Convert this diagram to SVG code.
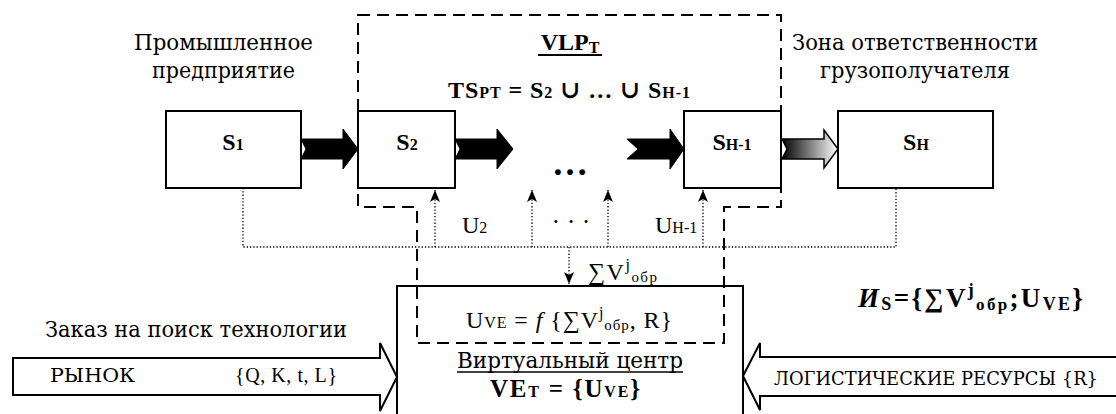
<svg xmlns="http://www.w3.org/2000/svg" width="1116" height="414" viewBox="0 0 1116 414">
<style>
text{font-family:"Liberation Serif","DejaVu Serif","Noto Serif","Tinos","FreeSerif","Times New Roman",serif;fill:#000}
.r{font-size:24px}
.b{font-size:24px;font-weight:bold}
.cy{font-family:"DejaVu Serif","Noto Serif","FreeSerif","PT Serif","Liberation Serif",serif;font-size:22px}
.cs{font-family:"DejaVu Serif","Noto Serif","FreeSerif","PT Serif","Liberation Serif",serif;font-size:19px}
.sub{font-size:16px}
.box{fill:#fff;stroke:#000;stroke-width:2}
.dash{fill:none;stroke:#000;stroke-width:2;stroke-dasharray:12 7}
.dot{fill:none;stroke:#000;stroke-width:1.3;stroke-dasharray:1.3 2}
.blk{fill:#000;stroke:#000;stroke-width:1}
.hollow{fill:#fff;stroke:#000;stroke-width:2}
</style>
<defs>
<linearGradient id="g" x1="0" y1="0" x2="1" y2="0">
<stop offset="0" stop-color="#000"/>
<stop offset="1" stop-color="#fff"/>
</linearGradient>
<marker id="ah" markerUnits="userSpaceOnUse" markerWidth="14" markerHeight="10" refX="12" refY="5" orient="auto">
<path d="M0,0 L12,5 L0,10 L3,5 Z" fill="#000"/>
</marker>
</defs>

<g id="vlp-region">
<path class="dash" d="M358,15 H781 V207 H724 V343 H417 V207 H358 Z"/>
</g>

<g id="ve">
<rect x="397" y="286" width="346" height="140" fill="none" stroke="#000" stroke-width="2"/>
<text class="r" x="466" y="328" textLength="206">U<tspan class="sub">VE</tspan> = <tspan font-style="italic">f</tspan> {∑V<tspan class="sub" dy="-10">j</tspan><tspan class="sub" dy="12" style="font-size:15px">обр</tspan><tspan dy="-2">, R}</tspan></text>
<text class="cy" x="457" y="368" textLength="226" lengthAdjust="spacingAndGlyphs">Виртуальный центр</text>
<line x1="457" y1="372" x2="683" y2="372" stroke="#000" stroke-width="1.3"/>
<text class="b" x="490" y="397" textLength="150" style="font-size:25px">VE<tspan class="sub">T</tspan> = {U<tspan class="sub">VE</tspan>}</text>
</g>

<g id="s1">
<rect class="box" x="166" y="111" width="135" height="77"/>
<text class="b" x="233" y="150" text-anchor="middle">S<tspan class="sub">1</tspan></text>
</g>
<g id="s2">
<rect class="box" x="358" y="111" width="97" height="77"/>
<text class="b" x="407" y="150" text-anchor="middle">S<tspan class="sub">2</tspan></text>
</g>
<g id="sh1">
<rect class="box" x="684" y="111" width="97" height="77"/>
<text class="b" x="732" y="150" text-anchor="middle">S<tspan class="sub">H-1</tspan></text>
</g>
<g id="sh">
<rect class="box" x="838" y="111" width="155" height="77"/>
<text class="b" x="916" y="150" text-anchor="middle">S<tspan class="sub">H</tspan></text>
</g>

<g id="market">
<polygon class="hollow" points="13,358 380,358 380,343 397,377 380,411 380,395 13,395"/>
<text class="cs" x="50" y="382" textLength="85" lengthAdjust="spacingAndGlyphs">РЫНОК</text>
<text class="r" x="235" y="382" textLength="102" style="font-size:20px">{Q, K, t, L}</text>
</g>
<g id="resources">
<polygon class="hollow" points="1120,357 760,357 760,343 743,376 760,410 760,396 1120,396"/>
<text class="cs" x="774" y="385" textLength="324" lengthAdjust="spacingAndGlyphs">ЛОГИСТИЧЕСКИЕ РЕСУРСЫ {R}</text>
</g>

<g id="connectors">
<polygon class="blk" points="301,139 343,139 343,129 358,149 343,169 343,159 301,159 306,149"/>
<polygon class="blk" points="455,139 497,139 497,129 513,149 497,169 497,159 455,159 460,149"/>
<polygon class="blk" points="627,139 670,139 670,129 684,149 670,169 670,159 627,159 638,149"/>
<polygon points="782,139 824,139 824,130 838,149 824,168 824,159 782,159 787,149" fill="url(#g)" stroke="#000" stroke-width="1.5"/>
<path class="dot" d="M243,188 V247 H896 V188"/>
<line class="dot" x1="435" y1="247" x2="435" y2="190" marker-end="url(#ah)"/>
<line class="dot" x1="532" y1="247" x2="532" y2="190" marker-end="url(#ah)"/>
<line class="dot" x1="608" y1="247" x2="608" y2="190" marker-end="url(#ah)"/>
<line class="dot" x1="703" y1="247" x2="703" y2="190" marker-end="url(#ah)"/>
<line class="dot" x1="569" y1="247" x2="569" y2="284" marker-end="url(#ah)"/>
</g>

<g id="labels">
<text class="cy" x="134" y="50" textLength="179" lengthAdjust="spacingAndGlyphs">Промышленное</text>
<text class="cy" x="152" y="78" textLength="143" lengthAdjust="spacingAndGlyphs">предприятие</text>
<text class="cy" x="792" y="50" textLength="246" lengthAdjust="spacingAndGlyphs">Зона ответственности</text>
<text class="cy" x="820" y="78" textLength="190" lengthAdjust="spacingAndGlyphs">грузополучателя</text>
<text class="b" x="570" y="50" text-anchor="middle">VLP<tspan class="sub" dy="3">T</tspan></text>
<line x1="538" y1="55" x2="602" y2="55" stroke="#000" stroke-width="2"/>
<text class="b" x="448" y="98" textLength="242">TS<tspan class="sub">PT</tspan> = S<tspan class="sub">2</tspan> ∪ … ∪ S<tspan class="sub">H-1</tspan></text>
<text class="b" x="570" y="175" text-anchor="middle" style="font-size:36px">…</text>
<text class="r" x="462" y="233">U<tspan class="sub">2</tspan></text>
<text class="r" x="571" y="230" text-anchor="middle" style="font-size:26px">· · ·</text>
<text class="r" x="655" y="233">U<tspan class="sub">H-1</tspan></text>
<text class="r" x="588" y="280" textLength="69">∑V<tspan class="sub" dy="-10">j</tspan><tspan class="sub" dy="12" style="font-size:15px">обр</tspan></text>
<text class="cy" x="45" y="337" textLength="302" lengthAdjust="spacingAndGlyphs">Заказ на поиск технологии</text>
<text class="b" x="858" y="307" textLength="225" style="font-size:27px"><tspan font-style="italic">И</tspan><tspan dy="3" style="font-size:18px">S</tspan><tspan dy="-3">={∑V</tspan><tspan dy="-11" style="font-size:18px">j</tspan><tspan dy="14" style="font-size:17px">обр</tspan><tspan dy="-3">;U</tspan><tspan dy="3" style="font-size:18px">VE</tspan><tspan dy="-3">}</tspan></text>
</g>
</svg>
